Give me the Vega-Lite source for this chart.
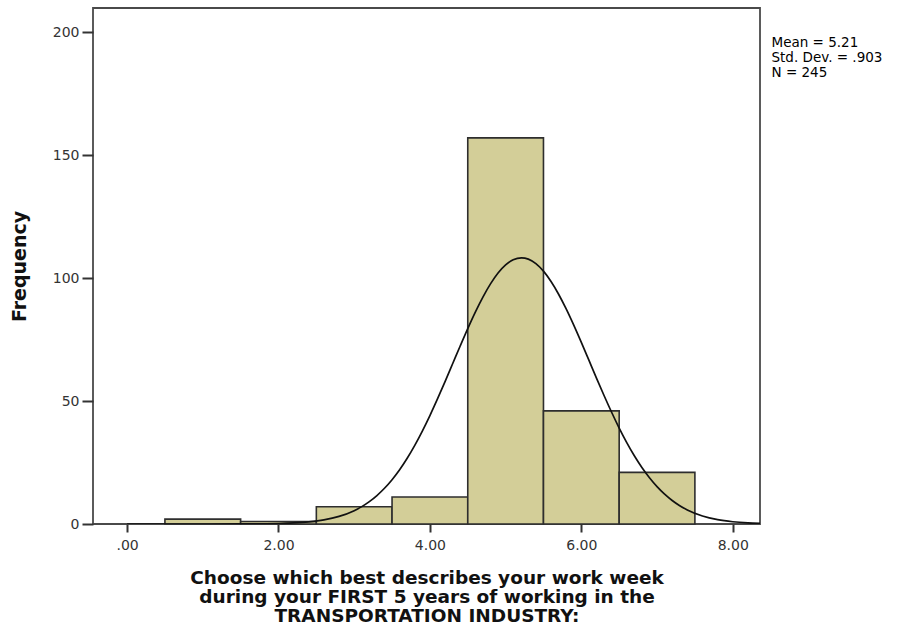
{
  "$schema": "https://vega.github.io/schema/vega-lite/v6.json",
  "width": 667,
  "height": 516,
  "autosize": {"type": "none"},
  "padding": {"left": 93, "top": 8, "right": 156, "bottom": 109},
  "background": "white",
  "config": {
    "view": {"fill": "#efefef", "stroke": "#4a4a4a", "strokeWidth": 1.8},
    "axis": {"labelFont": "DejaVu Sans", "titleFont": "DejaVu Sans", "labelColor": "#333", "tickColor": "#333", "tickWidth": 2, "grid": false, "domain": false}
  },
  "datasets": {
    "bins": [
      {"bin_start": 0.5, "bin_end": 1.5, "count": 2},
      {"bin_start": 1.5, "bin_end": 2.5, "count": 1},
      {"bin_start": 2.5, "bin_end": 3.5, "count": 7},
      {"bin_start": 3.5, "bin_end": 4.5, "count": 11},
      {"bin_start": 4.5, "bin_end": 5.5, "count": 157},
      {"bin_start": 5.5, "bin_end": 6.5, "count": 46},
      {"bin_start": 6.5, "bin_end": 7.5, "count": 21}
    ],
    "curve": [
      {"x": 0.0, "y": 0}, {"x": 1.0, "y": 0.002}, {"x": 1.5, "y": 0.023}, {"x": 2.0, "y": 0.195},
      {"x": 2.2, "y": 0.418}, {"x": 2.4, "y": 0.854}, {"x": 2.6, "y": 1.66}, {"x": 2.8, "y": 3.08},
      {"x": 3.0, "y": 5.42}, {"x": 3.1, "y": 7.06}, {"x": 3.2, "y": 9.09}, {"x": 3.3, "y": 11.56},
      {"x": 3.4, "y": 14.52}, {"x": 3.5, "y": 18.02}, {"x": 3.6, "y": 22.09}, {"x": 3.7, "y": 26.74},
      {"x": 3.8, "y": 31.99}, {"x": 3.9, "y": 37.79}, {"x": 4.0, "y": 44.10}, {"x": 4.1, "y": 50.85},
      {"x": 4.2, "y": 57.91}, {"x": 4.3, "y": 65.14}, {"x": 4.4, "y": 72.39}, {"x": 4.5, "y": 79.46},
      {"x": 4.6, "y": 86.16}, {"x": 4.7, "y": 92.28}, {"x": 4.8, "y": 97.64}, {"x": 4.9, "y": 102.05},
      {"x": 5.0, "y": 105.35}, {"x": 5.1, "y": 107.44}, {"x": 5.21, "y": 108.24}, {"x": 5.3, "y": 107.70},
      {"x": 5.4, "y": 105.87}, {"x": 5.5, "y": 102.80}, {"x": 5.6, "y": 98.60}, {"x": 5.7, "y": 93.42},
      {"x": 5.8, "y": 87.43}, {"x": 5.9, "y": 80.83}, {"x": 6.0, "y": 73.82}, {"x": 6.1, "y": 66.60},
      {"x": 6.2, "y": 59.34}, {"x": 6.3, "y": 52.24}, {"x": 6.4, "y": 45.43}, {"x": 6.5, "y": 39.01},
      {"x": 6.6, "y": 33.10}, {"x": 6.7, "y": 27.75}, {"x": 6.8, "y": 22.97}, {"x": 6.9, "y": 18.79},
      {"x": 7.0, "y": 15.18}, {"x": 7.1, "y": 12.11}, {"x": 7.2, "y": 9.55}, {"x": 7.3, "y": 7.43},
      {"x": 7.4, "y": 5.72}, {"x": 7.6, "y": 3.26}, {"x": 7.8, "y": 1.77}, {"x": 8.0, "y": 0.92},
      {"x": 8.2, "y": 0.45}, {"x": 8.36, "y": 0.25}
    ],
    "stats": [
      {"stat": "Mean = 5.21"},
      {"stat": "Std. Dev. = .903"},
      {"stat": "N = 245"}
    ]
  },
  "layer": [
    {
      "data": {"name": "bins"},
      "mark": {"type": "rect", "fill": "#d3ce98", "stroke": "#2e2e2e", "strokeWidth": 1.6},
      "encoding": {
        "x": {
          "field": "bin_start", "type": "quantitative",
          "scale": {"domain": [-0.45, 8.36], "nice": false, "zero": false},
          "axis": {
            "values": [0, 2, 4, 6, 8],
            "labelExpr": "datum.value == 0 ? '.00' : format(datum.value, '.2f')",
            "labelFontSize": 14, "tickSize": 8, "labelPadding": 6,
            "title": ["Choose which best describes your work week", "during your FIRST 5 years of working in the", "TRANSPORTATION INDUSTRY:"],
            "titleFontSize": 18.5, "titleFontWeight": "bold", "titleColor": "#111", "titleLineHeight": 19, "titlePadding": 16
          }
        },
        "x2": {"field": "bin_end"},
        "y": {
          "field": "count", "type": "quantitative",
          "scale": {"domain": [0, 209.8], "nice": false},
          "axis": {
            "values": [0, 50, 100, 150, 200],
            "labelFontSize": 14, "tickSize": 11, "labelPadding": 3,
            "title": "Frequency", "titleFontSize": 19, "titleFontWeight": "bold", "titleColor": "#111", "titlePadding": 23
          }
        },
        "y2": {"datum": 0}
      }
    },
    {
      "data": {"name": "curve"},
      "mark": {"type": "line", "color": "#111", "strokeWidth": 1.7, "interpolate": "monotone", "clip": true},
      "encoding": {
        "x": {"field": "x", "type": "quantitative"},
        "y": {"field": "y", "type": "quantitative"}
      }
    },
    {
      "data": {"name": "stats"},
      "mark": {"type": "text", "text": "", "opacity": 0},
      "encoding": {
        "color": {
          "field": "stat", "type": "nominal",
          "sort": ["Mean = 5.21", "Std. Dev. = .903", "N = 245"],
          "scale": {"range": ["#000", "#000", "#000"]},
          "legend": {
            "title": null, "orient": "none", "legendX": 665, "legendY": 28,
            "symbolSize": 0, "symbolStrokeWidth": 0, "symbolOpacity": 0, "labelOffset": 0,
            "labelFont": "DejaVu Sans", "labelFontSize": 13.5, "labelColor": "#000", "rowPadding": 0, "padding": 0, "labelLimit": 300
          }
        }
      }
    }
  ]
}
